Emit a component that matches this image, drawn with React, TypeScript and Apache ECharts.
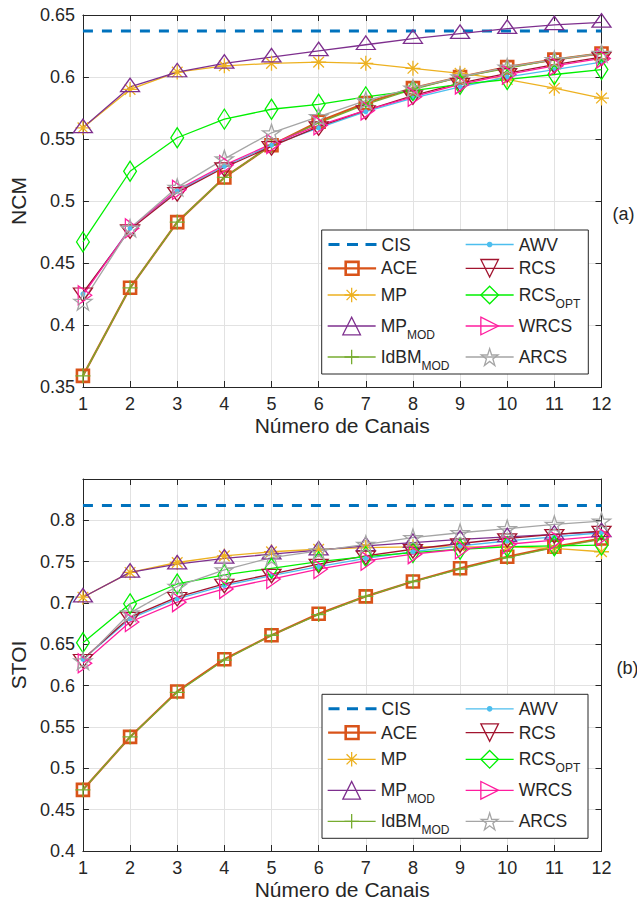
import React, { useEffect, useRef } from "react";
import * as echarts from "echarts";

// ---------------- data ----------------
const channels = [1, 2, 3, 4, 5, 6, 7, 8, 9, 10, 11, 12];

// (a) NCM
const ncmCIS = [0.637, 0.637, 0.637, 0.637, 0.637, 0.637, 0.637, 0.637, 0.637, 0.637, 0.637, 0.637];
const ncmACE = [0.359, 0.430, 0.483, 0.519, 0.545, 0.564, 0.579, 0.591, 0.600, 0.608, 0.614, 0.619];
const ncmMP = [0.559, 0.590, 0.604, 0.609, 0.611, 0.612, 0.611, 0.607, 0.603, 0.598, 0.591, 0.583];
const ncmMPMOD = [0.559, 0.592, 0.604, 0.611, 0.616, 0.621, 0.626, 0.631, 0.635, 0.639, 0.642, 0.644];
const ncmIdBMMOD = [0.359, 0.430, 0.483, 0.519, 0.545, 0.563, 0.578, 0.590, 0.600, 0.607, 0.614, 0.619];
const ncmAWV = [0.425, 0.478, 0.508, 0.528, 0.545, 0.559, 0.572, 0.583, 0.592, 0.600, 0.606, 0.612];
const ncmRCS = [0.426, 0.477, 0.507, 0.527, 0.544, 0.560, 0.573, 0.585, 0.595, 0.603, 0.610, 0.616];
const ncmRCSOPT = [0.467, 0.524, 0.551, 0.566, 0.574, 0.578, 0.584, 0.589, 0.594, 0.598, 0.602, 0.606];
const ncmWRCS = [0.424, 0.478, 0.509, 0.529, 0.546, 0.561, 0.573, 0.584, 0.594, 0.602, 0.609, 0.615];
const ncmARCS = [0.419, 0.478, 0.511, 0.534, 0.555, 0.568, 0.581, 0.591, 0.600, 0.608, 0.614, 0.619];

// (b) STOI
const stoiCIS = [0.818, 0.818, 0.818, 0.818, 0.818, 0.818, 0.818, 0.818, 0.818, 0.818, 0.818, 0.818];
const stoiACE = [0.474, 0.538, 0.593, 0.632, 0.661, 0.687, 0.708, 0.726, 0.742, 0.756, 0.768, 0.778];
const stoiMP = [0.707, 0.737, 0.749, 0.757, 0.762, 0.765, 0.767, 0.768, 0.768, 0.768, 0.766, 0.762];
const stoiMPMOD = [0.707, 0.737, 0.747, 0.754, 0.759, 0.764, 0.769, 0.773, 0.777, 0.780, 0.783, 0.786];
const stoiIdBMMOD = [0.474, 0.538, 0.592, 0.631, 0.661, 0.686, 0.708, 0.726, 0.741, 0.755, 0.767, 0.777];
const stoiAWV = [0.632, 0.681, 0.705, 0.721, 0.733, 0.744, 0.754, 0.762, 0.769, 0.775, 0.780, 0.785];
const stoiRCS = [0.632, 0.683, 0.707, 0.723, 0.735, 0.747, 0.757, 0.765, 0.772, 0.778, 0.783, 0.787];
const stoiRCSOPT = [0.652, 0.699, 0.723, 0.734, 0.742, 0.750, 0.756, 0.761, 0.765, 0.768, 0.769, 0.770];
const stoiWRCS = [0.627, 0.677, 0.701, 0.717, 0.729, 0.741, 0.751, 0.759, 0.765, 0.771, 0.776, 0.781];
const stoiARCS = [0.630, 0.688, 0.720, 0.740, 0.755, 0.763, 0.771, 0.779, 0.785, 0.790, 0.795, 0.799];

const seriesNames = ["CIS", "ACE", "MP", "MP_MOD", "IdBM_MOD", "AWV", "RCS", "RCS_OPT", "WRCS", "ARCS"];
const ncmData = [ncmCIS, ncmACE, ncmMP, ncmMPMOD, ncmIdBMMOD, ncmAWV, ncmRCS, ncmRCSOPT, ncmWRCS, ncmARCS];
const stoiData = [stoiCIS, stoiACE, stoiMP, stoiMPMOD, stoiIdBMMOD, stoiAWV, stoiRCS, stoiRCSOPT, stoiWRCS, stoiARCS];

const xAxisTitle = "Número de Canais";
const yTitles = ["NCM", "STOI"];
const panelTags = ["(a)", "(b)"];

// ---------------- styles ----------------
const FONT = '"Liberation Sans", Arial, Helvetica, sans-serif';
const TXT = "#262626";
const GRIDC = "#e2e2e2";
const NONE = "rgba(0,0,0,0)";

const STAR =
  "path://M50,0L61.23,34.55L97.55,34.55L68.17,55.9L79.39,90.45L50,69.1L20.61,90.45L31.83,55.9L2.45,34.55L38.77,34.55Z";

type St = {
  color: string;
  symbol: string;
  size: number | number[];
  width: number;
  bw: number;
  filled?: boolean;
  dash?: number[];
  lh: number;
  offset?: number[];
};

const STY: Record<string, St> = {
  CIS: { color: "#0072BD", symbol: "none", size: 0, width: 3, bw: 0, dash: [10, 9], lh: 16 },
  ACE: { color: "#D95319", symbol: "path://M0,0L10,0L10,10L0,10Z", size: 12, width: 2.2, bw: 2.6, lh: 16 },
  MP: {
    color: "#EDB120",
    symbol: "path://M5,0L5,10M0,5L10,5M1.46,1.46L8.54,8.54M1.46,8.54L8.54,1.46",
    size: 15, width: 1.3, bw: 1.3, lh: 18,
  },
  MP_MOD: { color: "#7E2F8E", symbol: "path://M0,16L9.5,0L19,16Z", size: [19, 16], width: 1.3, bw: 1.3, lh: 22, offset: [0, -2] },
  IdBM_MOD: { color: "#77AC30", symbol: "path://M5,0L5,10M0,5L10,5", size: 15, width: 1.3, bw: 1.3, lh: 18 },
  AWV: { color: "#4DBEEE", symbol: "circle", size: 5, width: 1.3, bw: 0, filled: true, lh: 7 },
  RCS: { color: "#A2142F", symbol: "path://M0,0L19,0L9.5,16Z", size: [19, 16], width: 1.3, bw: 1.3, lh: 22, offset: [0, 2] },
  RCS_OPT: { color: "#00F000", symbol: "path://M8,0L16,10L8,20L0,10Z", size: [16, 20], width: 1.3, bw: 1.3, lh: 22 },
  WRCS: { color: "#FF1C9E", symbol: "path://M0,0L16,9.5L0,19Z", size: [16, 19], width: 1.3, bw: 1.3, lh: 22, offset: [2, 0] },
  ARCS: { color: "#A5A5A5", symbol: STAR, size: 18, width: 1.3, bw: 1.3, lh: 21 },
};

const fmt = (v: number) => String(Number(v.toFixed(2)));
const legendLabel = (n: string) => {
  const [a, b] = n.split("_");
  return b ? `{m|${a}}{s|${b}}` : `{m|${a}}`;
};

// legend layout
const legendCols = [
  { x: 327, names: ["CIS", "ACE", "MP", "MP_MOD", "IdBM_MOD"] },
  { x: 465, names: ["AWV", "RCS", "RCS_OPT", "WRCS", "ARCS"] },
];
const legendRowOffsets = [14.5, 38.3, 65, 96, 127];
const legendBoxes = [
  { x: 321.7, y: 230, w: 266.6, h: 144 },
  { x: 322, y: 694.3, w: 266, h: 144 },
];

const grids = [
  { left: 80, top: 15, width: 521.5, height: 372 },
  { left: 80, top: 479, width: 521.5, height: 372 },
];
const yRanges = [
  { min: 0.35, max: 0.65 },
  { min: 0.4, max: 0.85 },
];

export default function App() {
  const ref = useRef<HTMLDivElement>(null);

  useEffect(() => {
    document.body.style.margin = "0";
    if (!ref.current) return;
    const chart = echarts.init(ref.current, null, { renderer: "svg" });

    const xAxes: any[] = [];
    const yAxes: any[] = [];
    const series: any[] = [];
    const legends: any[] = [];
    const graphics: any[] = [];

    [0, 1].forEach((p) => {
      const tick = { show: true, inside: true, length: 6, lineStyle: { color: TXT, width: 1 } };
      const line = { show: true, onZero: false, lineStyle: { color: TXT, width: 1 } };
      xAxes.push({
        type: "value", gridIndex: p, min: 1, max: 12, interval: 1, position: "bottom",
        name: xAxisTitle, nameLocation: "middle", nameGap: 28,
        nameTextStyle: { fontSize: 21, color: TXT, fontFamily: FONT },
        axisLine: line, axisTick: tick,
        axisLabel: { fontSize: 18, color: TXT, fontFamily: FONT, margin: 8 },
        splitLine: { show: true, lineStyle: { color: GRIDC, width: 1 } },
      });
      xAxes.push({
        type: "value", gridIndex: p, min: 1, max: 12, interval: 1, position: "top",
        axisLine: line, axisTick: tick, axisLabel: { show: false }, splitLine: { show: false },
      });
      const r = yRanges[p];
      yAxes.push({
        type: "value", gridIndex: p, min: r.min, max: r.max, interval: 0.05, position: "left",
        name: yTitles[p], nameLocation: "middle", nameGap: 53, nameRotate: 90,
        nameTextStyle: { fontSize: 21, color: TXT, fontFamily: FONT },
        axisLine: line, axisTick: tick,
        axisLabel: {
          fontSize: 18, color: TXT, fontFamily: FONT, margin: 8,
          formatter: (v: number) => (p === 1 && Math.abs(v - 0.85) < 1e-6 ? "" : fmt(v)),
        },
        splitLine: { show: true, lineStyle: { color: GRIDC, width: 1 } },
      });
      yAxes.push({
        type: "value", gridIndex: p, min: r.min, max: r.max, interval: 0.05, position: "right",
        axisLine: line, axisTick: tick, axisLabel: { show: false }, splitLine: { show: false },
      });

      const dataSet = p === 0 ? ncmData : stoiData;
      seriesNames.forEach((name, i) => {
        const s = STY[name];
        series.push({
          type: "line",
          name,
          xAxisIndex: p * 2,
          yAxisIndex: p * 2,
          data: channels.map((c, k) => [c, dataSet[i][k]]),
          symbol: s.symbol,
          symbolSize: s.size,
          symbolKeepAspect: true,
          symbolOffset: s.offset || [0, 0],
          showSymbol: s.symbol !== "none",
          clip: false,
          silent: true,
          lineStyle: { color: s.color, width: s.width, type: s.dash ? s.dash : "solid" },
          itemStyle: s.filled
            ? { color: s.color, borderWidth: 0 }
            : { color: NONE, borderColor: s.color, borderWidth: s.bw },
          emphasis: { disabled: true },
        });
      });

      const box = legendBoxes[p];
      graphics.push({
        type: "rect", z: 3,
        shape: { x: box.x, y: box.y, width: box.w, height: box.h },
        style: { fill: "#ffffff", stroke: TXT, lineWidth: 1 },
      });
      graphics.push({
        type: "text", z: 5,
        x: p === 0 ? 612.5 : 616.5,
        y: p === 0 ? 214 : 668,
        style: { text: panelTags[p], fontSize: 18, fontFamily: FONT, fill: TXT, align: "left", verticalAlign: "middle" },
      });

      legendCols.forEach((col) => {
        col.names.forEach((name, ri) => {
          const s = STY[name];
          legends.push({
            show: true,
            z: 4,
            left: col.x,
            top: box.y + legendRowOffsets[ri] - 15,
            padding: 0,
            orient: "horizontal",
            selectedMode: false,
            itemWidth: 48,
            itemHeight: s.lh,
            data: [
              {
                name,
                itemStyle: s.symbol === "none"
                  ? { color: NONE, borderColor: NONE, borderWidth: 0 }
                  : s.filled
                  ? { color: s.color, borderWidth: 0 }
                  : { color: NONE, borderColor: s.color, borderWidth: s.bw },
                lineStyle: {
                  color: s.color,
                  width: s.width,
                  type: s.dash ? [11, 7.5] : "solid",
                },
              },
            ],
            formatter: legendLabel,
            textStyle: {
              color: TXT,
              fontFamily: FONT,
              fontSize: 17.5,
              lineHeight: 30,
              rich: {
                m: { fontSize: 17.5, lineHeight: 30, fontFamily: FONT, color: TXT },
                s: { fontSize: 12, lineHeight: 12, padding: [18, 0, 0, 0], fontFamily: FONT, color: TXT },
              },
            },
          });
        });
      });
    });

    chart.setOption({
      animation: false,
      backgroundColor: "#ffffff",
      grid: grids.map((g) => ({ ...g, containLabel: false })),
      xAxis: xAxes,
      yAxis: yAxes,
      series,
      legend: legends,
      graphic: graphics,
    });

    return () => chart.dispose();
  }, []);

  return (
    <div
      ref={ref}
      style={{ position: "fixed", left: 0, top: 0, width: 637, height: 910, background: "#fff" }}
    />
  );
}
